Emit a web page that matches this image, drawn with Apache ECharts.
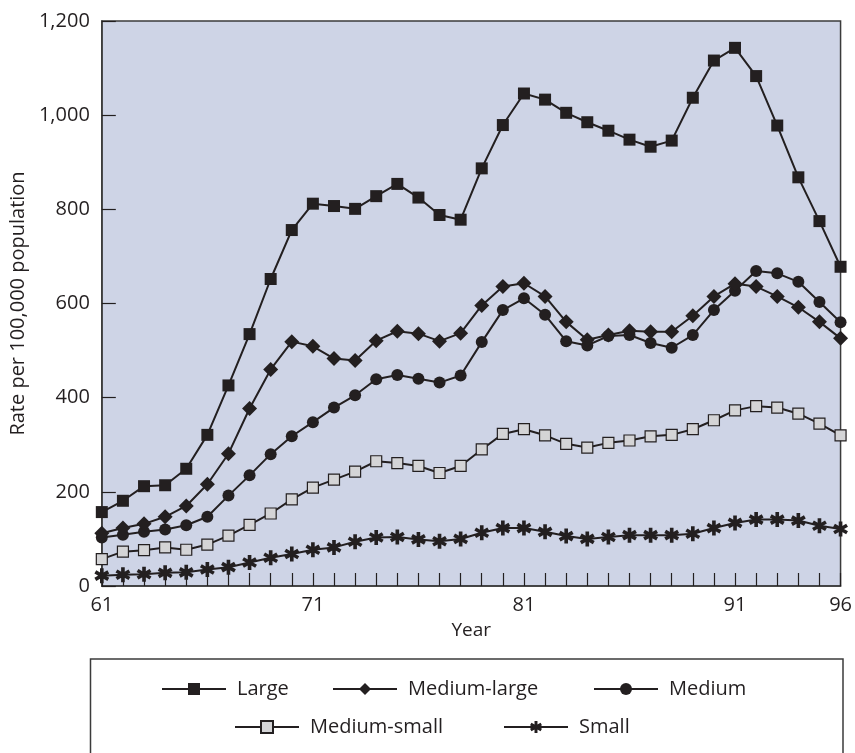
<!DOCTYPE html>
<html>
<head>
<meta charset="utf-8">
<script src="https://cdn.jsdelivr.net/npm/echarts@6/dist/echarts.min.js"></script>
<style>
html,body{margin:0;padding:0;background:#fff;}
#chart{width:855px;height:753px;}
</style>
</head>
<body>
<div id="chart"></div>
<script>
var years = [61,62,63,64,65,66,67,68,69,70,71,72,73,74,75,76,77,78,79,80,81,82,83,84,85,86,87,88,89,90,91,92,93,94,95,96];
var xTickLabels = [61,71,81,91,96];
var yTicks = [0,200,400,600,800,1000,1200];
var seriesNames = ['Large','Medium-large','Medium','Medium-small','Small'];
var large = [157,181,212,214,249,321,426,535,652,756,812,807,801,828,854,825,788,778,887,979,1046,1033,1005,985,967,948,933,946,1037,1116,1143,1083,978,868,775,678];
var mediumLarge = [112,123,132,147,170,216,281,377,460,519,509,483,479,521,541,536,520,537,596,636,643,615,561,523,533,542,540,540,574,615,642,636,615,592,561,526];
var medium = [103,109,115,120,129,147,192,235,280,318,348,379,405,439,448,440,432,447,518,586,611,576,520,511,531,533,516,506,533,586,627,669,664,646,603,560];
var mediumSmall = [57,73,76,82,77,88,107,130,154,184,209,226,243,265,261,255,240,255,290,323,333,320,302,294,304,309,318,321,333,352,373,382,379,366,345,320];
var small = [22,24,25,28,29,35,40,50,60,68,77,82,94,103,104,99,95,100,113,123,123,115,106,100,104,108,108,108,111,123,134,141,141,139,128,121];

function pairs(vals){ return years.map(function(y,i){ return [y, vals[i]]; }); }

// asterisk symbol path
function asteriskPath(){
  var L = 7, W = 1.7, s = '';
  [90, 30, 150].forEach(function(deg){
    var t = deg*Math.PI/180, dx = Math.cos(t), dy = Math.sin(t), nx = -dy, ny = dx;
    var p = [[L*dx+W*nx, L*dy+W*ny],[L*dx-W*nx, L*dy-W*ny],[-L*dx-W*nx, -L*dy-W*ny],[-L*dx+W*nx, -L*dy+W*ny]];
    s += 'M' + p.map(function(q){return (q[0]+10).toFixed(2)+' '+(q[1]+10).toFixed(2);}).join(' L') + ' Z ';
  });
  return 'path://' + s;
}

var ink = '#231f20';
var axisColor = '#3b3b3b';
var font = "'Open Sans', 'Noto Sans', sans-serif";

function mkSeries(name, vals, symbol, size, fill){
  return {
    name: name, type: 'line', data: pairs(vals),
    symbol: symbol, symbolSize: size, symbolKeepAspect: true,
    lineStyle: {color: ink, width: 2},
    itemStyle: {color: fill, borderColor: ink, borderWidth: fill === ink ? 0 : 1.2},
    emphasis: {disabled: true},
    animation: false
  };
}

var chart = echarts.init(document.getElementById('chart'), null, {renderer: 'canvas'});
var legendBase = {
  padding: 0, itemWidth: 64, itemHeight: 15, orient: 'horizontal',
  textStyle: {fontFamily: font, fontSize: 20, color: ink, padding: [0,0,0,6]},
  selectedMode: false
};
function lg(name, left, top){
  return Object.assign({}, legendBase, {data: [name], left: left, top: top});
}
chart.setOption({
  animation: false,
  grid: {left: 91, right: 12, top: 21, bottom: 167, show: true, backgroundColor: '#ced4e6', borderColor: axisColor, borderWidth: 1.5},
  xAxis: {
    type: 'value', min: 61, max: 96, interval: 1,
    name: 'Year', nameLocation: 'middle', nameGap: 35,
    nameTextStyle: {fontFamily: font, fontSize: 19, color: ink},
    axisLine: {lineStyle: {color: axisColor, width: 1.5}},
    axisTick: {inside: true, length: 13, lineStyle: {color: ink, width: 1.2}},
    axisLabel: {fontFamily: font, fontSize: 20, color: ink, margin: 9,
      formatter: function(v){ return xTickLabels.indexOf(v) >= 0 ? String(v) : ''; }},
    splitLine: {show: false}
  },
  yAxis: {
    type: 'value', min: 0, max: 1200, interval: 200,
    name: 'Rate per 100,000 population', nameLocation: 'middle', nameGap: 62,
    nameTextStyle: {fontFamily: font, fontSize: 20, color: ink},
    axisLine: {show: true, lineStyle: {color: axisColor, width: 1.5}},
    axisTick: {inside: true, length: 14, lineStyle: {color: ink, width: 1.2}},
    axisLabel: {fontFamily: font, fontSize: 20, color: ink, margin: 12,
      formatter: function(v){ return yTicks.indexOf(v) >= 0 ? v.toLocaleString('en-US') : ''; }},
    splitLine: {show: false}
  },
  legend: [
    lg('Large', 161, 679),
    lg('Medium-large', 332, 679),
    lg('Medium', 593, 679),
    lg('Medium-small', 234, 717),
    lg('Small', 503, 717)
  ],
  graphic: [{
    type: 'rect', shape: {x: 90.5, y: 659, width: 752.5, height: 140},
    style: {fill: null, stroke: axisColor, lineWidth: 1.5}, silent: true
  }],
  series: [
    mkSeries('Small', small, asteriskPath(), 15, ink),
    mkSeries('Medium-small', mediumSmall, 'rect', 11, '#d4d4d6'),
    mkSeries('Medium', medium, 'circle', 12, ink),
    mkSeries('Medium-large', mediumLarge, 'diamond', 15, ink),
    mkSeries('Large', large, 'rect', 12, ink)
  ]
});
</script>
</body>
</html>
